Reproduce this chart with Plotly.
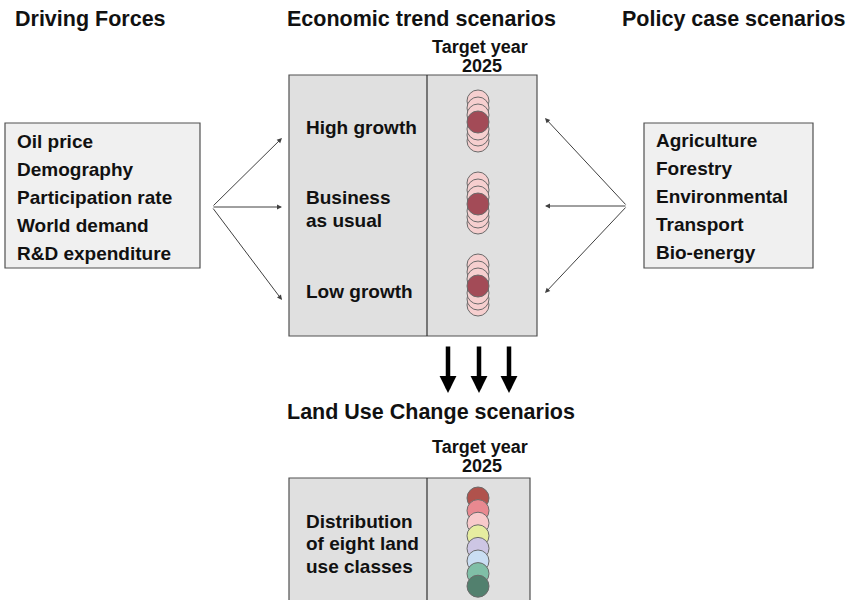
import plotly.graph_objects as go

# ---- data -----------------------------------------------------------------
HEADINGS = ["Driving Forces", "Economic trend scenarios", "Policy case scenarios"]
DRIVING_FORCES = ["Oil price", "Demography", "Participation rate",
                  "World demand", "R&D expenditure"]
POLICY_CASES = ["Agriculture", "Forestry", "Environmental", "Transport", "Bio-energy"]
GROWTH_SCENARIOS = [["High growth"], ["Business", "as usual"], ["Low growth"]]
LAND_USE_TITLE = "Land Use Change scenarios"
LAND_USE_LABEL = ["Distribution", "of eight land", "use classes"]
TARGET_LABEL = ["Target year", "2025"]
# seven stacked land-use outcomes per growth scenario, the central one highlighted
STACK_OFFSETS = [-21, -14, -7, 19, 13, 7, 0]
STACK_COLORS = ["#f6cfcf"] * 6 + ["#a34b57"]
LAND_USE_COLORS = ["#b0524c", "#e98990", "#f8cacb", "#e6eda0",
                   "#cdc6e4", "#cadef3", "#80bfa7", "#52806e"]

# ---- styling --------------------------------------------------------------
FONT = "Liberation Sans, Arial, sans-serif"
INK = "#111111"
EDGE = "#505050"
BOX_FILL = "#f0f0f0"
SCEN_FILL = "#e0e0e0"

W, H = 852, 600
fig = go.Figure()


def text(x, y, s, size=19, anchor="left"):
    fig.add_annotation(x=x, y=y, text=f"<b>{s}</b>", showarrow=False,
                       xanchor=anchor, yanchor="middle",
                       font=dict(family=FONT, size=size, color=INK))


def box(x0, y0, x1, y1, fill):
    fig.add_shape(type="rect", x0=x0, y0=y0, x1=x1, y1=y1,
                  fillcolor=fill, line=dict(color=EDGE, width=1.2), layer="below")


def arrow(tail, head, width=1, color="#404040", size=1.0):
    fig.add_annotation(x=head[0], y=head[1], ax=tail[0], ay=tail[1],
                       xref="x", yref="y", axref="x", ayref="y",
                       text="", showarrow=True, arrowhead=2, arrowsize=size,
                       arrowwidth=width, arrowcolor=color, standoff=0)


def target_label(top):
    text(480, top, TARGET_LABEL[0], size=18, anchor="center")
    text(482, top + 19, TARGET_LABEL[1], size=18, anchor="center")


# headings
for label, cx in zip(HEADINGS, [90, 421, 734]):
    text(cx, 19, label, size=21.5, anchor="center")

# driving forces box
box(5, 123, 200, 268, BOX_FILL)
for i, label in enumerate(DRIVING_FORCES):
    text(15, 141 + 28 * i, label)

# policy box
box(644, 123, 813, 268, BOX_FILL)
for i, label in enumerate(POLICY_CASES):
    text(654, 140 + 28 * i, label)

# scenario box
box(289, 75, 537, 336, SCEN_FILL)
fig.add_shape(type="line", x0=427, x1=427, y0=75, y1=336,
              line=dict(color="#303030", width=1.2))
target_label(47)

scen_centres = [122, 204, 286]
label_rows = [[127], [197, 220], [291]]
for lines, rows, cy in zip(GROWTH_SCENARIOS, label_rows, scen_centres):
    for line, ry in zip(lines, rows):
        text(304, ry, line)
    fig.add_trace(go.Scatter(
        x=[478] * len(STACK_OFFSETS), y=[cy + o for o in STACK_OFFSETS],
        mode="markers", hoverinfo="skip",
        marker=dict(size=22, color=STACK_COLORS, line=dict(color="#6a6a6a", width=1)),
    ))

# arrows from the side boxes
for tip in [(282, 138), (282, 207), (282, 300)]:
    arrow((212, 207), tip)
for tip in [(545, 118), (545, 206), (545, 293)]:
    arrow((627, 206), tip)

# down arrows
for x in [448, 479, 509]:
    arrow((x, 345), (x, 393), width=4.5, color="#000000", size=0.75)

text(431, 412, LAND_USE_TITLE, size=21.5, anchor="center")

# land use box
box(289, 478, 530, 620, SCEN_FILL)
fig.add_shape(type="line", x0=427, x1=427, y0=478, y1=620,
              line=dict(color="#303030", width=1.2))
target_label(447)
for i, label in enumerate(LAND_USE_LABEL):
    text(304, 521 + 22.5 * i, label)
fig.add_trace(go.Scatter(
    x=[478] * len(LAND_USE_COLORS),
    y=[498 + 12.6 * i for i in range(len(LAND_USE_COLORS))],
    mode="markers", hoverinfo="skip",
    marker=dict(size=22, color=LAND_USE_COLORS, line=dict(color="#6a6a6a", width=1)),
))

fig.update_layout(
    width=W, height=H, showlegend=False,
    margin=dict(l=0, r=0, t=0, b=0),
    plot_bgcolor="white", paper_bgcolor="white",
    xaxis=dict(range=[0, W], visible=False, fixedrange=True),
    yaxis=dict(range=[H, 0], visible=False, fixedrange=True),
)
fig.write_html("out.html", config={"displayModeBar": False},
               post_script="document.body.style.margin='0';")
